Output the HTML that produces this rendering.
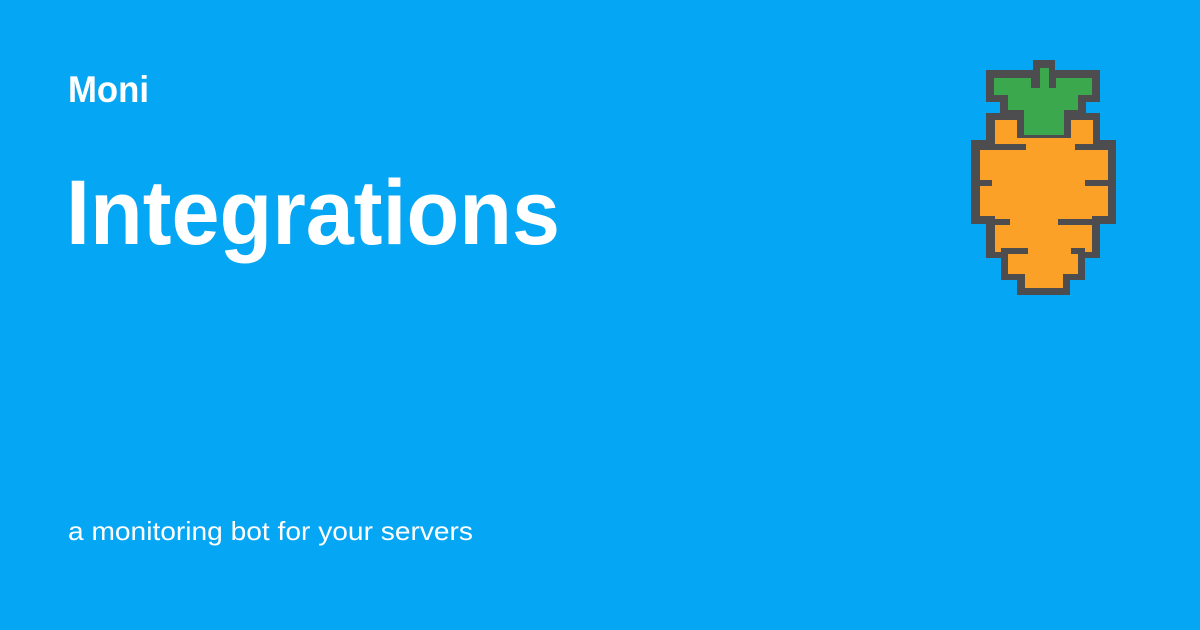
<!DOCTYPE html>
<html><head><meta charset="utf-8"><style>
html,body{margin:0;padding:0;width:1200px;height:630px;overflow:hidden;background:#03a6f3}
svg{display:block}
</style></head><body>
<svg width="1200" height="630" viewBox="0 0 1200 630" xmlns="http://www.w3.org/2000/svg">
<rect width="1200" height="630" fill="#05a6f3"/>
<g font-family="Liberation Sans, Arial, sans-serif" fill="#ffffff">
<text x="68" y="102" font-size="37" font-weight="bold" textLength="81" lengthAdjust="spacingAndGlyphs">Moni</text>
<text x="66" y="244" font-size="92" font-weight="bold" textLength="494" lengthAdjust="spacingAndGlyphs">Integrations</text>
<text x="68" y="540" font-size="26" textLength="405" lengthAdjust="spacingAndGlyphs">a monitoring bot for your servers</text>
</g>
<g>
<g fill="#4d4d4f">
<rect x="1033" y="60" width="22" height="25"/>
<rect x="986" y="70" width="114" height="32"/>
<rect x="1000" y="95" width="86" height="20"/>
<rect x="986" y="113" width="114" height="40"/>
<rect x="971" y="140" width="145" height="84"/>
<rect x="986" y="215" width="114" height="43"/>
<rect x="1001" y="250" width="84" height="30"/>
<rect x="1017" y="270" width="53" height="25"/>
</g>
<g fill="#3ba84e">
<rect x="1040" y="68" width="9" height="20"/>
<rect x="994" y="78" width="37" height="17"/>
<rect x="1056" y="78" width="36" height="17"/>
<rect x="1008" y="88" width="70" height="22"/>
<rect x="1024" y="95" width="40" height="40"/>
</g>
<g fill="#fba128">
<rect x="995" y="120" width="22" height="30"/>
<rect x="1071" y="120" width="22" height="30"/>
<rect x="995" y="138" width="98" height="14"/>
<rect x="980" y="148" width="128" height="68"/>
<rect x="995" y="210" width="97" height="42"/>
<rect x="1008" y="250" width="70" height="24"/>
<rect x="1025" y="270" width="38" height="18"/>
</g>
<g fill="#4d4d4f">
<rect x="980" y="144" width="46" height="6"/>
<rect x="1075" y="144" width="33" height="6"/>
<rect x="980" y="180" width="12" height="6"/>
<rect x="1085" y="180" width="23" height="6"/>
<rect x="986" y="219" width="24" height="6"/>
<rect x="1058" y="219" width="42" height="6"/>
<rect x="1001" y="248" width="27" height="6"/>
<rect x="1071" y="248" width="14" height="6"/>
</g>
</g>
</svg>
</body></html>
